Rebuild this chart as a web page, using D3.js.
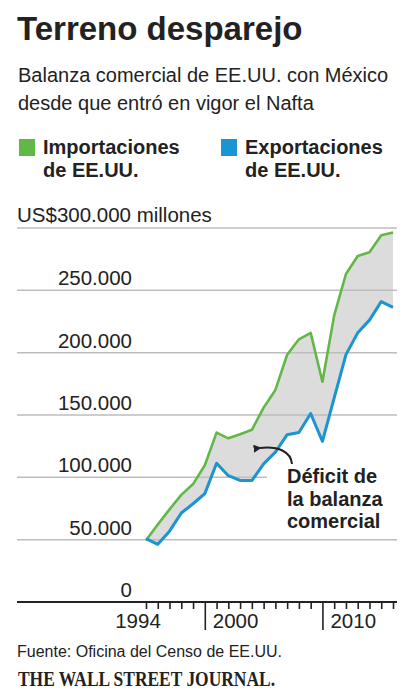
<!DOCTYPE html>
<html>
<head>
<meta charset="utf-8">
<script src="https://cdn.jsdelivr.net/npm/d3@7/dist/d3.min.js"></script>
<style>
  html, body { margin: 0; padding: 0; background: #fff; }
  svg { display: block; }
  text { font-family: "Liberation Sans", Arial, sans-serif; fill: #222; }
</style>
</head>
<body>
<svg id="chart" width="420" height="700"></svg>
<script>
// ---- Data (US$ millions) ----
const years = [1994,1995,1996,1997,1998,1999,2000,2001,2002,2003,2004,
               2005,2006,2007,2008,2009,2010,2011,2012,2013,2014,2015];
const imports = [49500,62100,74300,85900,94600,109700,135900,131300,134600,138100,155900,
                 170100,198300,210700,215900,176700,229900,263100,277600,280500,294200,296400];
const exportsUS = [50800,46300,56800,71400,78800,86900,111300,101300,97500,97400,110800,
                   120200,134200,136000,151200,128900,163700,198400,215900,226100,241000,236400];
const yTicks = [0,50000,100000,150000,200000,250000];
const yTickLabels = ["0","50.000","100.000","150.000","200.000","250.000"];
const topTick = 300000;
const topTickLabel = "US$300.000 millones";
const decadeTicks = [1999, 2009];
const xLabels = [{year:1994, text:"1994"},{year:1999, text:"2000"},{year:2009, text:"2010"}];

const svg = d3.select("#chart");
const green = "#62b847", blue = "#1b94d2", fillGray = "#dcdcdc", gridGray = "#bdbdbd";

const x = d3.scaleLinear().domain([1994, 2015]).range([146, 393]);
const y = d3.scaleLinear().domain([0, 300000]).range([602, 228]);

// ---- Title / subtitle ----
svg.append("text").attr("x", 17).attr("y", 40)
  .style("font-size", "33px").style("font-weight", "bold").text("Terreno desparejo");
svg.append("text").attr("x", 18).attr("y", 82).style("font-size", "20px")
  .text("Balanza comercial de EE.UU. con México");
svg.append("text").attr("x", 18).attr("y", 110).style("font-size", "20px")
  .text("desde que entró en vigor el Nafta");

// ---- Legend ----
const legend = [
  {color: green, lines: ["Importaciones", "de EE.UU."], x: 19},
  {color: blue, lines: ["Exportaciones", "de EE.UU."], x: 221}
];
legend.forEach(l => {
  svg.append("rect").attr("x", l.x).attr("y", 139).attr("width", 16).attr("height", 17).attr("fill", l.color);
  l.lines.forEach((t, i) => {
    svg.append("text").attr("x", l.x + 24).attr("y", 154 + i * 23)
      .style("font-size", "20px").style("font-weight", "bold").text(t);
  });
});

// ---- Area between series ----
const data = years.map((yr, i) => ({yr, imp: imports[i], exp: exportsUS[i]}));
svg.append("path").datum(data)
  .attr("fill", fillGray)
  .attr("d", d3.area().x(d => x(d.yr)).y0(d => y(d.exp)).y1(d => y(d.imp)));

// ---- Gridlines ----
const grid = yTicks.slice(1).concat([topTick]);
svg.append("g").selectAll("line").data(grid).join("line")
  .attr("x1", 17).attr("x2", 397)
  .attr("y1", d => y(d)).attr("y2", d => y(d))
  .attr("stroke", gridGray).attr("stroke-width", 1.5);

// white box behind annotation
svg.append("rect").attr("x", 267).attr("y", 467).attr("width", 133).attr("height", 66).attr("fill", "#fff");

// ---- Y labels ----
svg.append("g").selectAll("text").data(yTicks).join("text")
  .attr("x", 132).attr("y", d => y(d) - 5)
  .attr("text-anchor", "end").style("font-size", "20.5px")
  .text((d, i) => yTickLabels[i]);
svg.append("text").attr("x", 17).attr("y", y(topTick) - 6)
  .style("font-size", "20.5px").text(topTickLabel);

// ---- Lines ----
svg.append("path").datum(data).attr("fill", "none").attr("stroke", green)
  .attr("stroke-width", 2.6).attr("stroke-linejoin", "round")
  .attr("d", d3.line().x(d => x(d.yr)).y(d => y(d.imp)));
svg.append("path").datum(data).attr("fill", "none").attr("stroke", blue)
  .attr("stroke-width", 3).attr("stroke-linejoin", "round")
  .attr("d", d3.line().x(d => x(d.yr)).y(d => y(d.exp)));

// ---- X axis ----
svg.append("line").attr("x1", 17).attr("x2", 397).attr("y1", y(0)).attr("y2", y(0))
  .attr("stroke", "#222").attr("stroke-width", 2);
const xAxis = d3.axisBottom(x).tickValues(years).tickSize(7).tickFormat("");
const gx = svg.append("g").attr("transform", `translate(0,${y(0)})`).call(xAxis);
gx.select(".domain").remove();
gx.selectAll(".tick line").attr("stroke", "#222").attr("stroke-width", 1.6)
  .attr("y2", d => decadeTicks.includes(d) ? 28 : 7);
xLabels.forEach(l => {
  const isDecade = decadeTicks.includes(l.year);
  svg.append("text")
    .attr("x", isDecade ? x(l.year) + 8 : x(l.year) - 8)
    .attr("y", 628)
    .attr("text-anchor", isDecade ? "start" : "middle")
    .style("font-size", "20.5px").text(l.text);
});

// ---- Annotation ----
svg.append("defs").append("marker").attr("id", "arr")
  .attr("viewBox", "0 0 10 10").attr("refX", 2).attr("refY", 5)
  .attr("markerWidth", 4).attr("markerHeight", 4).attr("orient", "auto")
  .append("path").attr("d", "M10,0 L0,5 L10,10 Z").attr("fill", "#222");
svg.append("path").attr("d", "M292,464 C291,452 279,446 260,448")
  .attr("fill", "none").attr("stroke", "#222").attr("stroke-width", 2)
  .attr("marker-end", "url(#arr)");
["Déficit de", "la balanza", "comercial"].forEach((t, i) => {
  svg.append("text").attr("x", 287).attr("y", 483 + i * 22.5)
    .style("font-size", "20px").style("font-weight", "bold").text(t);
});

// ---- Footer ----
svg.append("text").attr("x", 17).attr("y", 657).style("font-size", "16px")
  .text("Fuente: Oficina del Censo de EE.UU.");
svg.append("text").attr("x", 18).attr("y", 686)
  .attr("textLength", 257).attr("lengthAdjust", "spacingAndGlyphs")
  .style("font-family", "'Liberation Serif', 'Times New Roman', serif")
  .style("font-weight", "bold")
  .style("font-size", "20px").text("THE WALL STREET JOURNAL.");
</script>
</body>
</html>
